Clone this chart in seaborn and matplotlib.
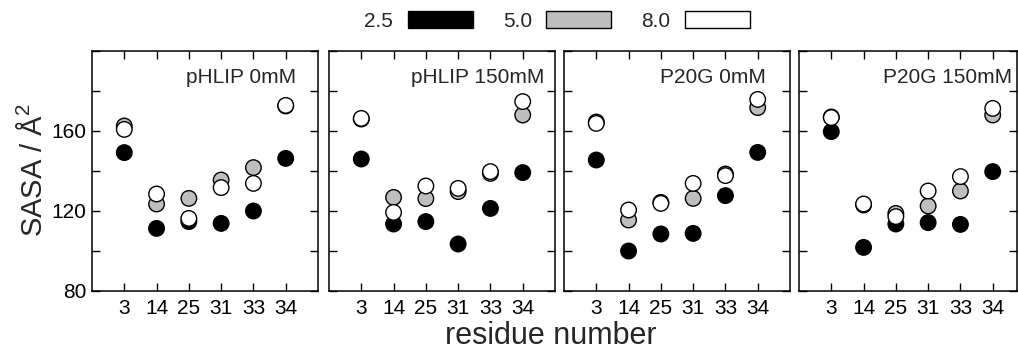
import numpy as np
import pandas as pd
import matplotlib
matplotlib.use("Agg")
import matplotlib.pyplot as plt
from matplotlib.patches import Patch
from matplotlib.ticker import MultipleLocator, FuncFormatter
import seaborn as sns

# ---- data ----
residues = ["3", "14", "25", "31", "33", "34"]
panels = ["pHLIP 0mM", "pHLIP 150mM", "P20G 0mM", "P20G 150mM"]
ph_levels = ["2.5", "5.0", "8.0"]

pHLIP_0_ph25 = [149.2, 111.3, 114.7, 113.8, 120.0, 146.3]
pHLIP_0_ph50 = [162.5, 123.5, 126.3, 135.5, 141.7, 172.5]
pHLIP_0_ph80 = [160.8, 128.5, 116.3, 131.7, 133.8, 172.8]

pHLIP_150_ph25 = [146.0, 113.5, 114.7, 103.5, 121.3, 139.2]
pHLIP_150_ph50 = [166.0, 126.8, 126.2, 129.7, 138.8, 168.0]
pHLIP_150_ph80 = [166.3, 119.3, 132.5, 131.3, 139.7, 174.7]

P20G_0_ph25 = [145.5, 100.0, 108.5, 108.8, 127.7, 149.3]
P20G_0_ph50 = [164.5, 115.5, 124.3, 126.3, 138.5, 171.7]
P20G_0_ph80 = [163.8, 120.5, 123.8, 133.8, 137.7, 175.8]

P20G_150_ph25 = [159.7, 101.8, 113.5, 114.2, 113.3, 139.7]
P20G_150_ph50 = [167.0, 123.0, 118.8, 122.5, 130.0, 168.0]
P20G_150_ph80 = [166.7, 123.5, 117.2, 130.0, 137.2, 171.3]

series = {
    "pHLIP 0mM": [pHLIP_0_ph25, pHLIP_0_ph50, pHLIP_0_ph80],
    "pHLIP 150mM": [pHLIP_150_ph25, pHLIP_150_ph50, pHLIP_150_ph80],
    "P20G 0mM": [P20G_0_ph25, P20G_0_ph50, P20G_0_ph80],
    "P20G 150mM": [P20G_150_ph25, P20G_150_ph50, P20G_150_ph80],
}

colors = {"2.5": "#000000", "5.0": "#bebebe", "8.0": "#ffffff"}

rows = []
for p in panels:
    for ph, vals in zip(ph_levels, series[p]):
        for i, (r, v) in enumerate(zip(residues, vals)):
            rows.append({"panel": p, "pH": ph, "pos": i, "residue": r, "sasa": v})
df = pd.DataFrame(rows)

# ---- style ----
sns.set_style("ticks")
plt.rcParams["font.family"] = ["Liberation Sans", "DejaVu Sans"]
plt.rcParams["mathtext.default"] = "regular"

W, H = 1018, 350
fig = plt.figure(figsize=(W / 100, H / 100), dpi=100)

lefts = [92, 329, 564, 799]
widths = [226, 226, 226, 218]
bottom_px, top_px = 291, 51
unit = 226 / 7.0

for k, p in enumerate(panels):
    ax = fig.add_axes([lefts[k] / W, (H - bottom_px) / H, widths[k] / W, (bottom_px - top_px) / H])
    sub = df[df["panel"] == p]
    sns.scatterplot(data=sub, x="pos", y="sasa", hue="pH", palette=colors,
                    hue_order=ph_levels, s=125, edgecolor="black", linewidth=1.0,
                    legend=False, ax=ax, zorder=3)
    ax.set_xlim(-1, -1 + widths[k] / unit)
    ax.set_ylim(80, 200)
    ax.set_xticks(range(len(residues)))
    ax.set_xticklabels(residues)
    ax.yaxis.set_major_locator(MultipleLocator(20))
    if k == 0:
        ax.yaxis.set_major_formatter(FuncFormatter(lambda v, pos: f"{int(v)}" if int(v) % 40 == 0 and v < 200 else ""))
    else:
        ax.set_yticklabels([])
    ax.tick_params(direction="in", length=6, width=1.0, top=True, right=True,
                   labelsize=15, colors="black")
    ax.tick_params(axis="x", pad=6)
    ax.tick_params(axis="y", pad=4)
    ax.set_xlabel("")
    ax.set_ylabel("")
    for s in ax.spines.values():
        s.set_visible(True)
        s.set_linewidth(1.1)
        s.set_color("black")
    ax.text(149 / widths[k], (bottom_px - 83) / (bottom_px - top_px), p, transform=ax.transAxes,
            ha="center", va="baseline", fontsize=15)

fig.text(33 / W, (H - 170) / H, "SASA / Å$^{2}$", rotation=90, ha="center", va="center", fontsize=21)
fig.text(551 / W, (H - 336) / H, "residue number", ha="center", va="center", fontsize=22)

handles = [Patch(facecolor=colors[ph], edgecolor="black", linewidth=1.0, label=ph) for ph in ph_levels]
fig.legend(handles=handles, loc="center", bbox_to_anchor=(557 / W, (H - 21) / H), ncol=3,
           frameon=False, markerfirst=False, fontsize=15, handlelength=3.1, handleheight=0.85,
           columnspacing=1.45, handletextpad=0.7, borderpad=0.2)

fig.savefig("out.png", dpi=100)
